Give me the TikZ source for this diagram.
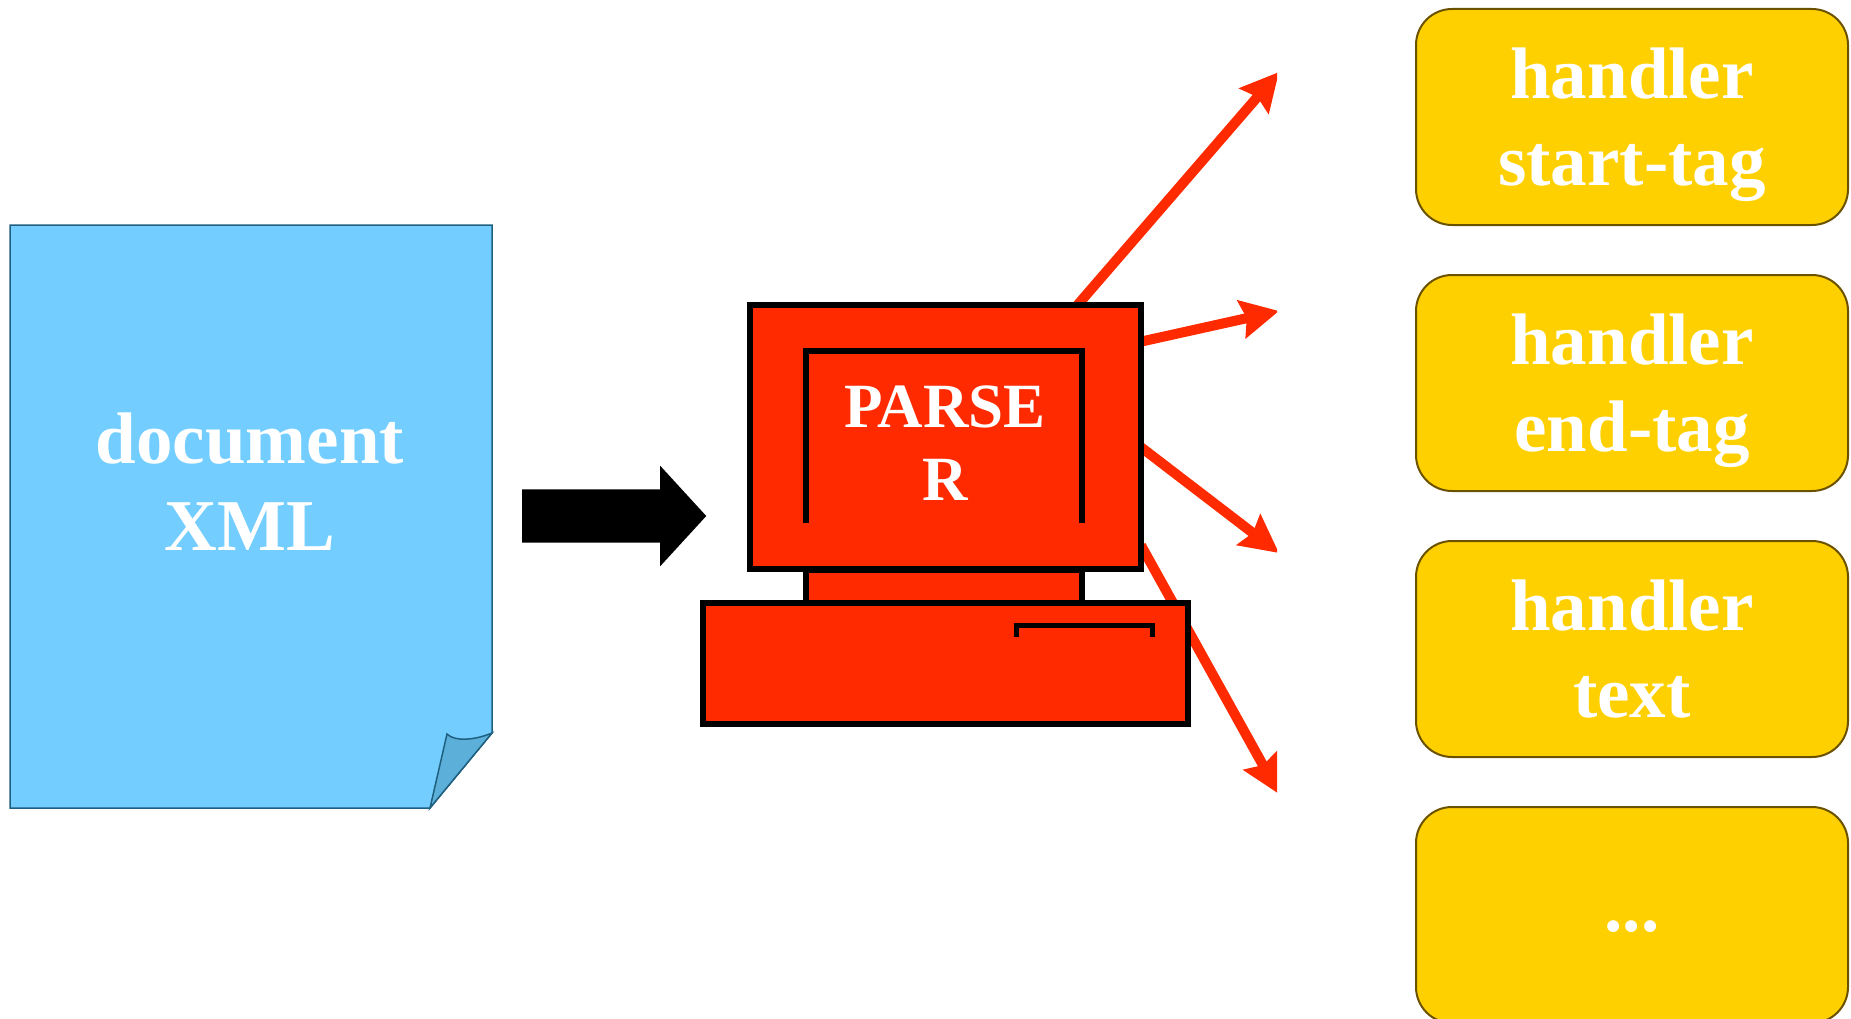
\documentclass[tikz,border=0pt]{standalone}
\usepackage{fontspec}
\setmainfont{Liberation Serif}
\usepackage{xcolor}
\usetikzlibrary{arrows.meta,shapes.arrows,backgrounds}
\definecolor{docblue}{HTML}{73CEFF}
\definecolor{foldblue}{HTML}{5CAFD8}
\definecolor{docline}{HTML}{1F5F80}
\definecolor{pcred}{HTML}{FF2A00}
\definecolor{handleryellow}{HTML}{FFD000}
\definecolor{handlerline}{HTML}{6B5200}

\begin{document}
\begin{tikzpicture}[x=1pt,y=-1pt,
	handler/.style={draw=handlerline,line width=2pt,fill=handleryellow,rounded corners=36pt,
		minimum width=432pt,minimum height=216pt,inner sep=0pt,outer sep=0pt,
		align=center,text=white,font=\fontsize{73}{87}\selectfont\bfseries},
	pcpart/.style={draw=black,line width=6pt,fill=pcred,inner sep=0pt,outer sep=0pt},
	callback/.style={draw=pcred,line width=10pt,-{Stealth[length=38pt,width=38pt,inset=5pt]}}]
\useasboundingbox (0,0) rectangle (1851,1019);
% the document sheet
\draw[draw=docline,line width=1.5pt,fill=docblue] (10,225) -- (492,225) -- (492,733)
	-- (430,808) -- (10,808) -- cycle;
\draw[draw=docline,line width=1.5pt,fill=foldblue] (430,808) -- (447,734)
	.. controls (455,742) and (475,740) .. (492,733) -- cycle;
\node[text=white,align=center,font=\fontsize{73}{87}\selectfont\bfseries] (doc) at (250,482) {document\\XML};
% the computer
\node[pcpart,minimum width=391pt,minimum height=264pt] (monitor) at (945.5,437) {};
\node[text=white,align=center,font=\fontsize{63}{73}\selectfont\bfseries] (parser) at (945,443) {PARSE\\R};
\draw[black,line width=6pt] (806,523) -- (806,351) -- (1082,351) -- (1082,523);
\node[pcpart,minimum width=276pt,minimum height=34pt] (neck) at (944,587) {};
\node[pcpart,minimum width=485pt,minimum height=121pt] (base) at (945.5,663.5) {};
\draw[black,line width=5pt] (1016,637) -- (1016,625) -- (1152,625) -- (1152,637);
\node[single arrow,fill=black,inner sep=0pt,outer sep=0pt,minimum width=100pt,minimum height=184pt,
	text height=53pt,text depth=0pt,single arrow head extend=23.5pt,single arrow tip angle=95] (feed) at (602,516) {};
% the handlers
\node[handler] (start) at (1632,117) {handler\\\smash{start-tag}};
\node[handler] (end) at (1632,383) {handler\\\smash{end-tag}};
\node[handler] (text) at (1632,649) {handler\\text};
\node[handler] (more) at (1632,915) {\raisebox{-16pt}[0pt][0pt]{...}};
% the calls
\coordinate (callstart) at (1279,72);
\coordinate (callend) at (1279,311);
\coordinate (calltext) at (1279,553);
\coordinate (callmore) at (1279,794);
\begin{scope}[on background layer]
\clip (0,0) rectangle (1277,1019);
\draw[callback] (monitor.45) -- (callstart);
\draw[callback] (monitor.26) -- (callend);
\draw[callback] (monitor.-3) -- (calltext);
\draw[callback] (monitor.-29) -- (callmore);
\end{scope}
\end{tikzpicture}
\end{document}
